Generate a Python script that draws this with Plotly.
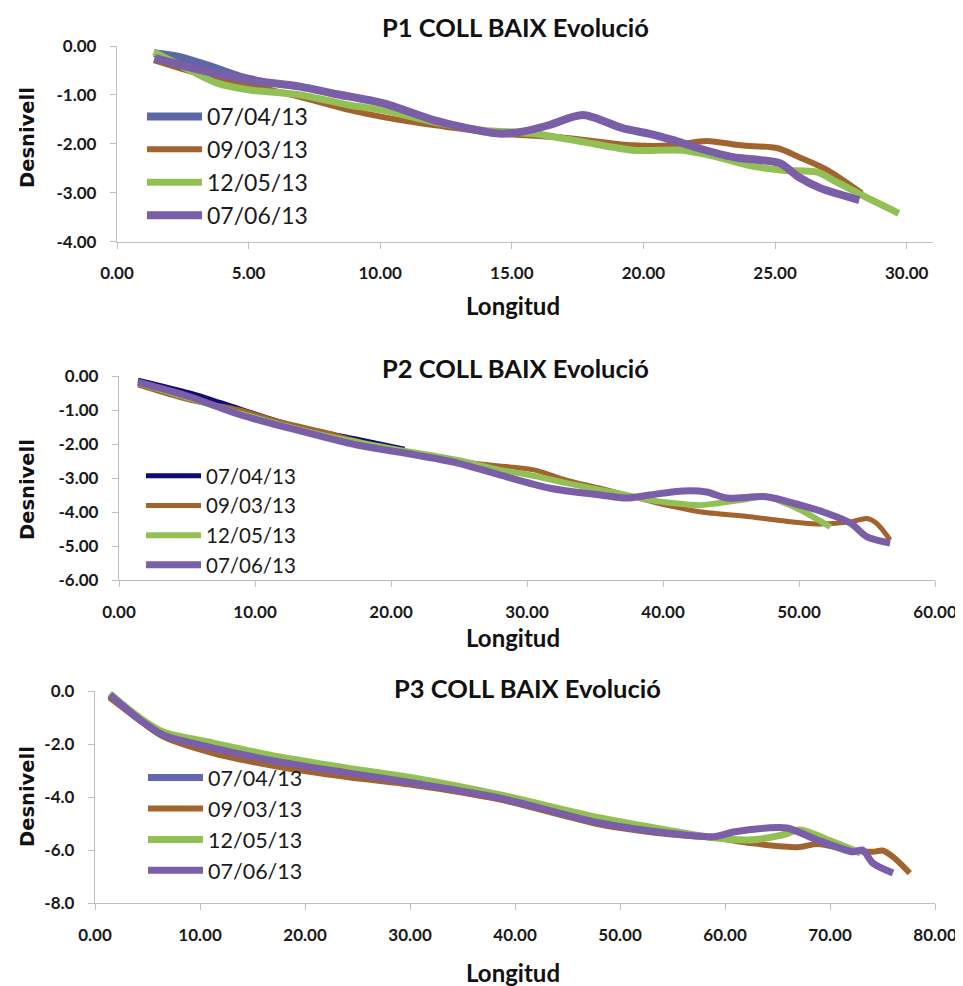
import plotly.graph_objects as go

# page has an 8px body margin; figure sized so the page is 963x986
OFF = 8
W, H = 963 - OFF, 986 - OFF

# ---------------- data ----------------
series_names = ["07/04/13", "09/03/13", "12/05/13", "07/06/13"]

# P1
p1_0704_x = [1.4, 2.3, 3.15, 4.0, 4.7, 5.6]
p1_0704_y = [-0.15, -0.22, -0.35, -0.50, -0.63, -0.74]
p1_0903_x = [1.4, 3.0, 5.05, 6.95, 8.85, 10.7, 12.6, 14.5, 17.1, 19.6, 21.1, 22.4, 23.7, 25.1, 25.9, 27.0, 28.3]
p1_0903_y = [-0.29, -0.55, -0.80, -1.04, -1.31, -1.51, -1.66, -1.79, -1.88, -2.03, -2.03, -1.94, -2.03, -2.09, -2.27, -2.54, -3.01]
p1_1205_x = [1.4, 2.5, 3.8, 5.05, 6.95, 8.85, 10.1, 12.0, 13.9, 15.8, 17.7, 19.6, 21.5, 22.8, 24.0, 25.3, 26.6, 27.2, 28.3, 29.7]
p1_1205_y = [-0.12, -0.42, -0.76, -0.90, -1.00, -1.21, -1.31, -1.55, -1.72, -1.79, -1.96, -2.13, -2.13, -2.27, -2.44, -2.54, -2.58, -2.74, -3.05, -3.42]
p1_0706_x = [1.44, 3.15, 5.05, 6.95, 8.2, 10.1, 12.0, 13.3, 14.5, 15.4, 16.4, 17.7, 19.2, 20.2, 21.1, 22.1, 23.4, 24.4, 25.2, 25.9, 26.7, 28.2]
p1_0706_y = [-0.25, -0.49, -0.70, -0.83, -0.97, -1.17, -1.51, -1.68, -1.79, -1.75, -1.62, -1.41, -1.68, -1.79, -1.92, -2.09, -2.27, -2.33, -2.40, -2.68, -2.90, -3.15]

# P2
p2_0704_x = [1.4, 5.2, 7.6, 12.6, 15.0, 17.5, 21.0]
p2_0704_y = [-0.12, -0.50, -0.80, -1.44, -1.66, -1.86, -2.15]
p2_0903_x = [1.4, 5.2, 8.9, 11.3, 15.0, 18.7, 22.4, 26.0, 28.0, 30.5, 32.9, 35.4, 37.8, 40.3, 42.7, 46.4, 48.8, 51.3, 53.8, 55.0, 55.7, 56.7]
p2_0903_y = [-0.26, -0.71, -1.00, -1.29, -1.64, -2.03, -2.32, -2.56, -2.65, -2.76, -3.06, -3.30, -3.55, -3.80, -3.99, -4.14, -4.26, -4.35, -4.29, -4.19, -4.33, -4.82]
p2_1205_x = [1.4, 5.2, 8.9, 15.0, 19.9, 24.9, 28.0, 30.2, 32.9, 37.3, 39.0, 42.7, 44.0, 45.7, 47.6, 50.1, 52.3]
p2_1205_y = [-0.20, -0.66, -1.10, -1.74, -2.12, -2.47, -2.76, -2.91, -3.15, -3.50, -3.65, -3.80, -3.74, -3.65, -3.55, -3.94, -4.44]
p2_0706_x = [1.4, 5.2, 8.9, 12.6, 17.5, 21.2, 24.9, 28.0, 31.7, 35.4, 37.3, 39.0, 41.5, 43.2, 44.7, 47.6, 50.1, 52.0, 53.8, 55.0, 56.7]
p2_0706_y = [-0.18, -0.61, -1.14, -1.54, -2.03, -2.28, -2.56, -2.91, -3.30, -3.50, -3.59, -3.50, -3.38, -3.41, -3.59, -3.55, -3.80, -4.03, -4.33, -4.73, -4.91]

# P3
p3_0704_x = [1.4, 4.3, 6.5, 11.2, 17.6, 24.0, 30.3, 38.6, 44.0, 48.0]
p3_0704_y = [-0.17, -1.10, -1.68, -2.17, -2.70, -3.11, -3.49, -4.06, -4.60, -5.00]
p3_0903_x = [1.4, 4.3, 6.5, 11.2, 17.6, 24.0, 30.3, 38.6, 48.1, 54.5, 59.2, 62.4, 67.1, 68.8, 71.9, 74.1, 75.0, 76.0, 77.6]
p3_0903_y = [-0.25, -1.12, -1.72, -2.34, -2.87, -3.25, -3.55, -4.10, -5.04, -5.40, -5.55, -5.74, -5.89, -5.77, -6.00, -6.07, -6.02, -6.26, -6.87]
p3_1205_x = [1.4, 4.3, 6.5, 11.2, 17.6, 24.0, 30.3, 38.6, 48.1, 54.5, 59.2, 62.4, 65.5, 67.1, 70.3, 72.9]
p3_1205_y = [-0.10, -1.02, -1.55, -1.96, -2.49, -2.91, -3.28, -3.92, -4.79, -5.25, -5.55, -5.62, -5.43, -5.25, -5.70, -6.11]
p3_0706_x = [1.43, 4.3, 6.5, 11.2, 17.6, 24.0, 30.3, 38.6, 48.1, 54.5, 58.9, 60.8, 64.0, 65.9, 68.8, 72.2, 73.1, 74.1, 76.0]
p3_0706_y = [-0.15, -1.09, -1.66, -2.15, -2.68, -3.09, -3.47, -4.04, -4.98, -5.36, -5.50, -5.32, -5.17, -5.17, -5.62, -6.07, -6.00, -6.50, -6.87]

# ticks
p1_xticks = [0, 5, 10, 15, 20, 25, 30]
p1_yticks = [0, -1, -2, -3, -4]
p2_xticks = [0, 10, 20, 30, 40, 50, 60]
p2_yticks = [0, -1, -2, -3, -4, -5, -6]
p3_xticks = [0, 10, 20, 30, 40, 50, 60, 70, 80]
p3_yticks = [0, -2, -4, -6, -8]

titles = ["P1 COLL BAIX Evolució", "P2 COLL BAIX Evolució", "P3 COLL BAIX Evolució"]
xtitle = "Longitud"
ytitle = "Desnivell"

# ---------------- styling ----------------
BROWN = "#a2642e"
GREEN = "#93c055"
PURPLE = "#7b5ea8"
blue_cols = ["#5c68a6", "#0c0c72", "#6567ae"]


def fx(px):
    return (px - OFF) / W


def fy(py):
    return 1 - (py - OFF) / H


def fmt(v, d):
    return f"{abs(v):.{d}f}" if v == 0 else f"{v:.{d}f}"


panels = [
    dict(data=[(p1_0704_x, p1_0704_y), (p1_0903_x, p1_0903_y), (p1_1205_x, p1_1205_y), (p1_0706_x, p1_0706_y)],
         widths=[8, 6, 7, 8], xr=[0, 31], yr=[-4, 0], xt=p1_xticks, yt=p1_yticks, yd=2,
         xdom=[117, 933], ydom=[241.7, 46], title_xy=(515, 27), xlab_y=305, ylab_y=138,
         leg=(142, 95), legsize=23),
    dict(data=[(p2_0704_x, p2_0704_y), (p2_0903_x, p2_0903_y), (p2_1205_x, p2_1205_y), (p2_0706_x, p2_0706_y)],
         widths=[5, 5, 6, 7], xr=[0, 60], yr=[-6, 0], xt=p2_xticks, yt=p2_yticks, yd=2,
         xdom=[119, 935], ydom=[580, 376], title_xy=(515, 368), xlab_y=637, ylab_y=490,
         leg=(141, 456), legsize=20.5),
    dict(data=[(p3_0704_x, p3_0704_y), (p3_0903_x, p3_0903_y), (p3_1205_x, p3_1205_y), (p3_0706_x, p3_0706_y)],
         widths=[7, 6, 7, 7], xr=[0, 80], yr=[-8, 0], xt=p3_xticks, yt=p3_yticks, yd=1,
         xdom=[95, 935], ydom=[903, 691], title_xy=(527, 688), xlab_y=972, ylab_y=797,
         leg=(143, 757), legsize=21.5),
]

fig = go.Figure()
layout = dict(width=W, height=H, margin=dict(l=0, r=0, t=0, b=0, autoexpand=False),
              paper_bgcolor="white", plot_bgcolor="white", showlegend=True,
              annotations=[])

TICKFONT = dict(family="Lato", size=17, color="#1a1a1a", weight="bold")

for i, p in enumerate(panels):
    n = "" if i == 0 else str(i + 1)
    cols = [blue_cols[i], BROWN, GREEN, PURPLE]
    for k, (xs, ys) in enumerate(p["data"]):
        fig.add_trace(go.Scatter(
            x=xs, y=ys, mode="lines", name=series_names[k],
            line=dict(color=cols[k], width=p["widths"][k], shape="spline", smoothing=0.8),
            xaxis="x" + n, yaxis="y" + n, legend="legend" + n,
        ))
    axcommon = dict(showline=True, linecolor="#bfbfbf", linewidth=1.3, ticks="outside",
                    ticklen=6, tickcolor="#bfbfbf", tickwidth=1.3, showgrid=False,
                    zeroline=False, tickfont=TICKFONT, automargin=False)
    layout["xaxis" + n] = dict(axcommon, domain=[fx(p["xdom"][0]), fx(p["xdom"][1])],
                               anchor="y" + n, range=p["xr"], tickvals=p["xt"],
                               ticktext=[fmt(v, 2) for v in p["xt"]], ticklabelstandoff=10)
    layout["yaxis" + n] = dict(axcommon, domain=[fy(p["ydom"][0]), fy(p["ydom"][1])],
                               anchor="x" + n, range=p["yr"], tickvals=p["yt"],
                               ticktext=[fmt(v, p["yd"]) for v in p["yt"]], ticklabelstandoff=10)
    layout["legend" + n] = dict(x=fx(p["leg"][0]), y=fy(p["leg"][1]), xanchor="left", yanchor="top",
                                bgcolor="rgba(0,0,0,0)", borderwidth=0, itemwidth=55,
                                font=dict(family="Lato", size=p["legsize"], color="#1a1a1a"),
                                tracegroupgap=0)
    tx, ty = p["title_xy"]
    layout["annotations"].append(dict(text=titles[i], x=fx(tx), y=fy(ty), xref="paper", yref="paper",
                                      showarrow=False, xanchor="center", yanchor="middle",
                                      font=dict(family="Lato", size=25.5, color="#111", weight="bold")))
    layout["annotations"].append(dict(text=xtitle, x=fx(513), y=fy(p["xlab_y"]), xref="paper", yref="paper",
                                      showarrow=False, xanchor="center", yanchor="middle",
                                      font=dict(family="Lato", size=24, color="#111", weight="bold")))
    layout["annotations"].append(dict(text=ytitle, x=fx(27), y=fy(p["ylab_y"]), xref="paper", yref="paper",
                                      showarrow=False, xanchor="center", yanchor="middle", textangle=-90,
                                      font=dict(family="DejaVu Sans", size=19.5, color="#111", weight="bold")))

fig.update_layout(**layout)
fig.write_html("out.html")
